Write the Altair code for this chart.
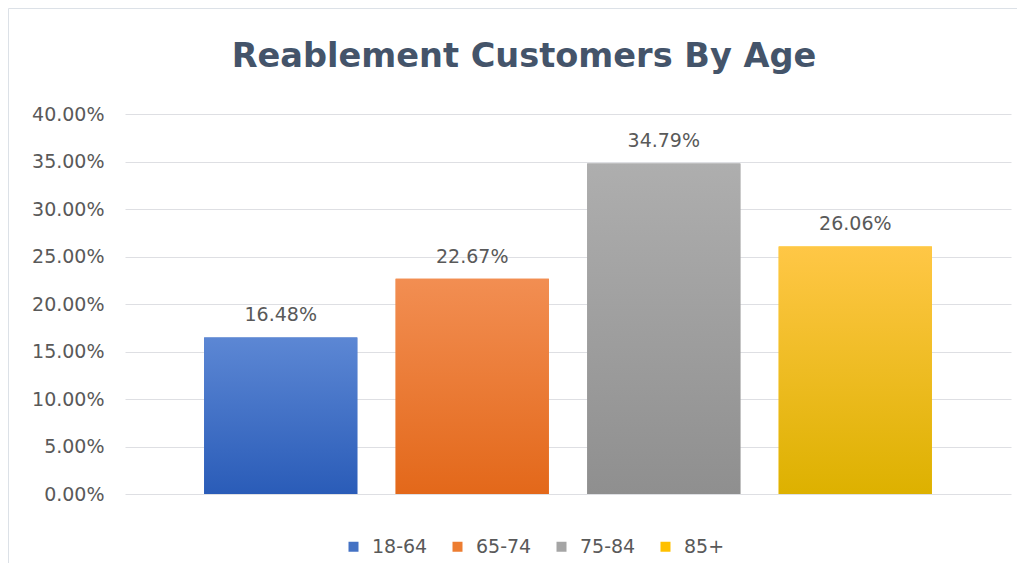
import altair as alt
import pandas as pd

# ---- data ----
ages = ["18-64", "65-74", "75-84", "85+"]
shares = [0.1648, 0.2267, 0.3479, 0.2606]
legend_colors = ["#4472C4", "#ED7D31", "#A5A5A5", "#FFC000"]
grad_top = ["#5C87D4", "#F28E52", "#AEAEAE", "#FFC746"]
grad_bottom = ["#2A5CB8", "#E3681A", "#8F8F8F", "#DDB100"]
y_ticks = [0.0, 0.05, 0.10, 0.15, 0.20, 0.25, 0.30, 0.35, 0.40]

df = pd.DataFrame({"age": ages, "share": shares})

W, H = 886, 380
FONT = "DejaVu Sans"
TXT = "#595959"
FS = 19

x_enc = alt.X(
    "age:N",
    sort=ages,
    axis=None,
    scale=alt.Scale(domain=ages, paddingInner=0.2, paddingOuter=0.413),
)
y_enc = alt.Y(
    "share:Q",
    scale=alt.Scale(domain=[0, 0.4], nice=False, zero=True),
    axis=alt.Axis(
        values=y_ticks,
        format=".2%",
        title=None,
        domain=False,
        ticks=False,
        labelPadding=21,
        labelFont=FONT,
        labelFontSize=FS,
        labelColor=TXT,
        gridColor="#DEDFE3",
        gridWidth=1,
    ),
)

legend_bars = alt.Chart(df).mark_bar().encode(
    x=x_enc,
    y=y_enc,
    color=alt.Color(
        "age:N",
        sort=ages,
        scale=alt.Scale(domain=ages, range=legend_colors),
        legend=alt.Legend(
            title=None,
            orient="none",
            direction="horizontal",
            legendX=219,
            legendY=423,
            padding=0,
            symbolType="square",
            symbolSize=100,
            symbolStrokeWidth=0,
            labelFont=FONT,
            labelFontSize=FS,
            labelColor=TXT,
            labelOffset=9,
            columnPadding=20,
        ),
    ),
)

grad_layers = []
for a, t, b in zip(ages, grad_top, grad_bottom):
    grad_layers.append(
        alt.Chart(df)
        .transform_filter(alt.datum.age == a)
        .mark_bar(
            color=alt.Gradient(
                gradient="linear",
                x1=0, y1=0, x2=0, y2=1,
                stops=[
                    alt.GradientStop(offset=0, color=t),
                    alt.GradientStop(offset=1, color=b),
                ],
            )
        )
        .encode(x=x_enc, y=y_enc)
    )

labels = alt.Chart(df).mark_text(
    dy=-16, baseline="alphabetic", font=FONT, fontSize=FS, color=TXT
).encode(x=x_enc, y=y_enc, text=alt.Text("share:Q", format=".2%"))

# chart-area border (only its left and top edges fall inside the crop)
frame_df = pd.DataFrame({"f": [0]})
frame_left = alt.Chart(frame_df).mark_rule(color="#DCE1E7", strokeWidth=1).encode(
    x=alt.value(-116.5), y=alt.value(-105.5), y2=alt.value(H + 69)
)
frame_top = alt.Chart(frame_df).mark_rule(color="#DCE1E7", strokeWidth=1).encode(
    x=alt.value(-116.5), x2=alt.value(W + 6), y=alt.value(-105.5)
)

chart = (
    alt.layer(frame_left, frame_top, legend_bars, *grad_layers, labels)
    .properties(
        width=W,
        height=H,
        padding={"left": 117, "top": 106, "right": 6, "bottom": 69},
        autosize=alt.AutoSizeParams(type="none"),
        view=alt.ViewBackground(stroke="transparent", strokeWidth=0),
        title=alt.Title(
            "Reablement Customers By Age",
            font=FONT,
            fontSize=33.6,
            fontWeight="bold",
            color="#44546A",
            anchor="middle",
            dx=-44,
            baseline="alphabetic",
            offset=-93,
        ),
    )
    .configure_view(stroke="transparent", strokeWidth=0)
    .configure(background="white")
)

chart.save("out.html", embed_options={"renderer": "svg", "actions": False})
